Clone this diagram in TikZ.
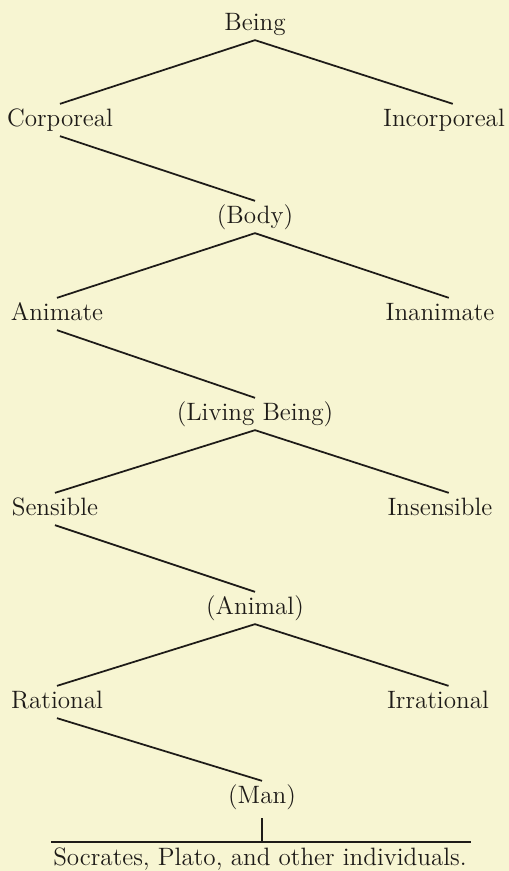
\documentclass[tikz,border=0pt]{standalone}
\usepackage{tikz}
\usepackage{xcolor}
\definecolor{paper}{RGB}{247,245,210}
\definecolor{ink}{RGB}{30,27,24}

\begin{document}
\begin{tikzpicture}[
    x=0.02cm, y=-0.02cm,
    font=\fontsize{14.3}{16}\selectfont,
    term/.style={text=ink, inner sep=2.5pt, text height=10pt, text depth=3pt},
    branch/.style={draw=ink, line width=1pt}
]

    % Paper
    \fill[paper] (0,0) rectangle (509,871);
    \useasboundingbox (0,0) rectangle (509,871);

    % Terms
    \node[term] (being)   at (255,24)  {Being};
    \node[term] (corp)    at (60,120)  {Corporeal};
    \node[term] (incorp)  at (444,120) {Incorporeal};
    \node[term] (body)    at (255,217) {(Body)};
    \node[term] (anim)    at (57,314)  {Animate};
    \node[term] (inanim)  at (440,314) {Inanimate};
    \node[term] (living)  at (255,414) {(Living Being)};
    \node[term] (sens)    at (55,509)  {Sensible};
    \node[term] (insens)  at (440,509) {Insensible};
    \node[term] (animal)  at (255,608) {(Animal)};
    \node[term] (rat)     at (57,702)  {Rational};
    \node[term] (irrat)   at (438,702) {Irrational};
    \node[term] (man)     at (262,797) {(Man)};
    \node[term] (indiv)   at (260,859) {Socrates, Plato, and other individuals.};

    % Coordinates of the bar
    \coordinate (barL) at (51,842);
    \coordinate (barM) at (262,842);
    \coordinate (barR) at (471,842);

    % Division of each genus
    \draw[branch] (being.south) -- (corp.north);
    \draw[branch] (being.south) -- ([xshift=5pt]incorp.north);
    \draw[branch] (corp.south) -- (body.north);

    \draw[branch] (body.south) -- (anim.north);
    \draw[branch] (body.south) -- ([xshift=5pt]inanim.north);
    \draw[branch] (anim.south) -- (living.north);

    \draw[branch] (living.south) -- (sens.north);
    \draw[branch] (living.south) -- ([xshift=5pt]insens.north);
    \draw[branch] (sens.south) -- (animal.north);

    \draw[branch] (animal.south) -- (rat.north);
    \draw[branch] (animal.south) -- ([xshift=6pt]irrat.north);
    \draw[branch] (rat.south) -- (man.north);

    % Individuals
    \draw[branch, line width=0.8pt, shorten <=3pt] (man.south) -- (barM);
    \draw[branch, line width=0.8pt] (barL) -- (barR);

\end{tikzpicture}
\end{document}
